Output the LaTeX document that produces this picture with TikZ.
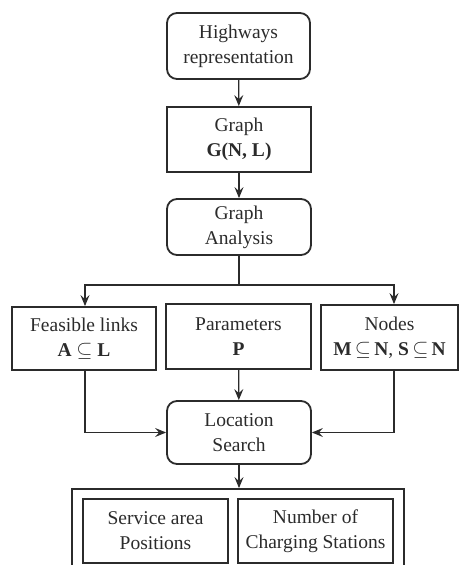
\documentclass[tikz,border=0pt]{standalone}
\usepackage{fontspec}
\setmainfont{Liberation Serif}
\usetikzlibrary{arrows.meta}
\definecolor{ink}{HTML}{2B2B2B}
\tikzset{
  box/.style={draw=ink, line width=1.8pt, text=ink, rectangle, inner sep=0pt, align=center,
    font=\fontsize{19.5}{25}\selectfont},
  rbox/.style={box, rounded corners=10pt},
  conn/.style={draw=ink, line width=1.3pt, -{Stealth[length=11pt,width=9pt,inset=4pt]}},
  plain/.style={draw=ink, line width=1.3pt}
}
\begin{document}
\begin{tikzpicture}[x=1pt,y=-1pt]
\useasboundingbox (0,0) rectangle (459,565);
\clip (0,0) rectangle (459,565);
\node[rbox, minimum width=143pt, minimum height=66pt] (hr) at (238.5,46) {Highways\\representation};
\node[box, minimum width=144pt, minimum height=65pt] (gr) at (239,139.5) {Graph\\\textbf{G(N, L)}};
\node[rbox, minimum width=144pt, minimum height=56pt] (ga) at (239,227) {Graph\\Analysis};
\node[box, minimum width=144pt, minimum height=63pt] (fl) at (84,338.5) {Feasible links\\\textbf{A} $\subseteq$ \textbf{L}};
\node[box, minimum width=145pt, minimum height=65pt] (pa) at (238.5,336.5) {Parameters\\\textbf{P}};
\node[box, minimum width=137pt, minimum height=65pt] (no) at (389.5,337.5) {Nodes\\\textbf{M}\,$\subseteq$\,\textbf{N}, \textbf{S}\,$\subseteq$\,\textbf{N}};
\node[rbox, minimum width=144pt, minimum height=63pt] (ls) at (239,432.5) {Location\\Search};
\node[box, minimum width=332pt, minimum height=90pt] (out) at (238,534) {};
\node[box, minimum width=145pt, minimum height=64pt] (sa) at (155.5,531) {Service area\\Positions};
\node[box, minimum width=155pt, minimum height=64pt] (nc) at (315.5,531) {Number of\\Charging Stations};
\coordinate (split) at (239,285);
\coordinate (jl) at (85,285);
\coordinate (jr) at (394,285);
\draw[conn] (hr) -- (gr);
\draw[conn] (gr) -- (ga);
\draw[plain] (ga.south) -- (split);
\draw[conn] (split) -- (jl) -- (jl |- fl.north);
\draw[conn] (split) -- (jr) -- (jr |- no.north);
\draw[conn] (pa) -- (ls);
\draw[conn] (jl |- fl.south) |- (ls.west);
\draw[conn] (jr |- no.south) |- (ls.east);
\draw[conn] (ls.south) -- (ls.south |- out.north);
\end{tikzpicture}
\end{document}
